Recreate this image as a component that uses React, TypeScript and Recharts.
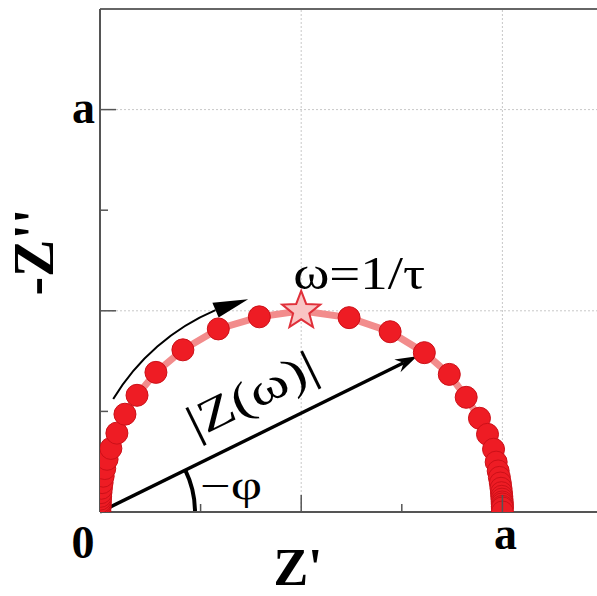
import React from "react";
import { ComposedChart, Scatter, XAxis, YAxis, ReferenceLine } from "recharts";

// Debye semicircle, impedance in units of a (dots ordered from high to low frequency)
const zRe = [
  0, 0.0001, 0.0002, 0.0004, 0.0006, 0.001, 0.0015, 0.0023, 0.0035, 0.0053, 0.0079,
  0.0118, 0.0176, 0.027, 0.042, 0.062, 0.092, 0.139, 0.206, 0.294, 0.396,
  0.619, 0.721, 0.806, 0.868, 0.91, 0.943, 0.963, 0.978, 0.9845, 0.9895, 0.9925,
  0.9948, 0.9965, 0.9977, 0.9985, 0.999, 0.9994, 0.9996, 0.9998, 0.9999, 1,
];
const zIm = [
  0, 0.01, 0.014, 0.02, 0.025, 0.032, 0.039, 0.048, 0.059, 0.073, 0.089,
  0.108, 0.131, 0.158, 0.196, 0.243, 0.29, 0.347, 0.403, 0.455, 0.485,
  0.483, 0.448, 0.396, 0.342, 0.285, 0.233, 0.193, 0.156, 0.124, 0.102, 0.086,
  0.072, 0.059, 0.048, 0.039, 0.032, 0.025, 0.02, 0.014, 0.01, 0,
];
// ω = 1/τ, top of the arc
const peakRe = [0.5];
const peakIm = [0.5];
// the |Z(ω)| arrow points at this dot
const modulusDot = 23;

const xTicks = [0, 0.25, 0.5, 0.75, 1];
const yTicks = [0.25, 0.5, 0.75, 1];
const gridValues = [0.5, 1];
const axisMax = 1.25;
// sweep arrow: centre of the arc and radius, in units of a
const sweepCenter = 0.5;
const sweepRadius = 0.545;

const dots = zRe.map((x, i) => ({ x, y: zIm[i] }));
const peak = peakRe.map((x, i) => ({ x, y: peakIm[i] }));
const path = [...dots, ...peak].sort((p, q) => p.x - q.x);

const SERIF = "'Liberation Serif', 'Times New Roman', serif";
const AXIS = "#555";

const XTick = (props: any) => {
  const { x, y, payload } = props;
  const v = payload.value;
  const len = v % 0.5 === 0 ? 17 : 8;
  return (
    <g>
      {v > 0 && <line x1={x} y1={y} x2={x} y2={y - len} stroke={AXIS} strokeWidth={1.5} />}
      {v === 0 && (
        <text x={x - 17} y={y + 46} textAnchor="middle" fontFamily={SERIF} fontWeight="bold" fontSize={46} fill="#000">
          0
        </text>
      )}
      {v === 1 && (
        <text x={x + 3} y={y + 37} textAnchor="middle" fontFamily={SERIF} fontWeight="bold" fontSize={46} fill="#000">
          a
        </text>
      )}
    </g>
  );
};

const YTick = (props: any) => {
  const { x, y, payload } = props;
  const v = payload.value;
  const len = v % 0.5 === 0 ? 16 : 8;
  return (
    <g>
      <line x1={x} y1={y} x2={x + len} y2={y} stroke={AXIS} strokeWidth={1.5} />
      {v === 1 && (
        <text x={x - 5} y={y + 13} textAnchor="end" fontFamily={SERIF} fontWeight="bold" fontSize={46} fill="#000">
          a
        </text>
      )}
    </g>
  );
};

const Dot = (p: any) => <circle cx={p.cx} cy={p.cy} r={11} fill="#ee1c24" stroke="#cc1018" strokeWidth={1} />;

const PeakStar = (p: any) => {
  const { cx, cy } = p;
  const pts: string[] = [];
  for (let i = 0; i < 10; i++) {
    const r = i % 2 === 0 ? 20 : 8.5;
    const a = -Math.PI / 2 + (i * Math.PI) / 5;
    pts.push(`${cx + r * Math.cos(a)},${cy + r * Math.sin(a)}`);
  }
  return (
    <g>
      <polygon points={pts.join(" ")} fill="#f9c4c4" stroke="#e0303a" strokeWidth={2} />
      <text x={cx - 8} y={cy - 22} fontFamily={SERIF} fontSize={46} textLength={132} lengthAdjust="spacingAndGlyphs" fill="#000">
        ω=1/τ
      </text>
    </g>
  );
};

// |Z(ω)| arrow from the origin, with the phase angle marked at its foot
const ModulusArrow = (p: any) => {
  const { x1, y1, x2, y2 } = p;
  const dx = x2 - x1;
  const dy = y2 - y1;
  const len = Math.hypot(dx, dy);
  const ux = dx / len;
  const uy = dy / len;
  const nx = uy; // normal pointing up-left
  const ny = -ux;
  const tipX = x2 - ux * 8;
  const tipY = y2 - uy * 8;
  const backX = tipX - ux * 22;
  const backY = tipY - uy * 22;
  const notchX = tipX - ux * 15;
  const notchY = tipY - uy * 15;
  const ang = Math.atan2(-dy, dx);
  const deg = (ang * 180) / Math.PI;
  const tx = x1 + dx * 0.52 + nx * 34;
  const ty = y1 + dy * 0.52 + ny * 34;
  const ra = 95;
  return (
    <g>
      <line x1={x1} y1={y1} x2={notchX} y2={notchY} stroke="#000" strokeWidth={3.5} />
      <path
        d={`M${tipX},${tipY} L${backX + nx * 7},${backY + ny * 7} L${notchX},${notchY} L${backX - nx * 7},${backY - ny * 7} Z`}
        fill="#000"
      />
      <text
        x={tx}
        y={ty}
        transform={`rotate(${-deg}, ${tx}, ${ty})`}
        textAnchor="middle"
        dominantBaseline="middle"
        fontFamily={SERIF}
        fontSize={46}
        textLength={140}
        lengthAdjust="spacingAndGlyphs"
        fill="#000"
      >
        |Z(ω)|
      </text>
      <path
        d={`M${x1 + ra},${y1} A${ra},${ra} 0 0 0 ${x1 + ra * Math.cos(ang)},${y1 - ra * Math.sin(ang)}`}
        fill="none"
        stroke="#000"
        strokeWidth={4}
      />
      <text x={x1 + 100} y={y1 - 13} fontFamily={SERIF} fontSize={40} textLength={62} lengthAdjust="spacingAndGlyphs" fill="#000">
        −φ
      </text>
    </g>
  );
};

// arrow showing the direction of decreasing frequency along the arc
const SweepArrow = (p: any) => {
  const { x1, y1, y2 } = p;
  const r = y1 - y2;
  const rad = (d: number) => (d * Math.PI) / 180;
  const at = (d: number, rr = r) => [x1 + rr * Math.cos(rad(d)), y1 - rr * Math.sin(rad(d))];
  const [sx, sy] = at(149);
  const [ex, ey] = at(113);
  const [hx, hy] = at(104);
  const [b1x, b1y] = at(113, r + 8);
  const [b2x, b2y] = at(113, r - 8);
  return (
    <g>
      <path d={`M${sx},${sy} A${r},${r} 0 0 1 ${ex},${ey}`} fill="none" stroke="#000" strokeWidth={2} />
      <path d={`M${hx},${hy} L${b1x},${b1y} L${b2x},${b2y} Z`} fill="#000" />
    </g>
  );
};

export default function App() {
  return (
    <div style={{ position: "fixed", left: 0, top: 0, width: 597, height: 596, overflow: "hidden", background: "#fff" }}>
      <ComposedChart width={640} height={596} margin={{ top: 9, right: 37, bottom: 0, left: 0 }}>
        <XAxis
          dataKey="x"
          type="number"
          domain={[0, axisMax]}
          allowDataOverflow
          ticks={xTicks}
          interval={0}
          tick={<XTick />}
          tickLine={false}
          tickSize={0}
          tickMargin={0}
          height={84}
          axisLine={{ stroke: AXIS, strokeWidth: 2 }}
          label={{
            content: (lp: any) => (
              <text x={lp.viewBox.x + 198} y={lp.viewBox.y + 73} textAnchor="middle" fontFamily={SERIF} fontWeight="bold" fontSize={52} fill="#000">
                Z'
              </text>
            ),
          }}
        />
        <YAxis
          dataKey="y"
          type="number"
          domain={[0, axisMax]}
          allowDataOverflow
          ticks={yTicks}
          interval={0}
          tick={<YTick />}
          tickLine={false}
          tickSize={0}
          tickMargin={0}
          width={100}
          axisLine={{ stroke: AXIS, strokeWidth: 2 }}
          label={{
            content: () => (
              <text
                x={53}
                y={252}
                transform="rotate(-90, 53, 252)"
                textAnchor="middle"
                fontFamily={SERIF}
                fontWeight="bold"
                fontSize={56}
                fill="#000"
              >
                -Z''
              </text>
            ),
          }}
        />
        {gridValues.map((v) => (
          <ReferenceLine key={`gx${v}`} x={v} stroke="#c8c8c8" strokeDasharray="2 2" />
        ))}
        {gridValues.map((v) => (
          <ReferenceLine key={`gy${v}`} y={v} stroke="#c8c8c8" strokeDasharray="2 2" />
        ))}
        <ReferenceLine y={axisMax} stroke="#666" strokeWidth={2} ifOverflow="visible" />
        <Scatter data={path} line={{ stroke: "#f28c8c", strokeWidth: 7 }} shape={() => <g />} isAnimationActive={false} />
        <Scatter data={dots} shape={Dot} isAnimationActive={false} />
        <Scatter data={peak} shape={PeakStar} isAnimationActive={false} />
        <ReferenceLine
          segment={[
            { x: sweepCenter, y: 0 },
            { x: sweepCenter, y: sweepRadius },
          ]}
          shape={SweepArrow}
        />
        <ReferenceLine
          segment={[
            { x: 0, y: 0 },
            { x: zRe[modulusDot], y: zIm[modulusDot] },
          ]}
          shape={ModulusArrow}
          ifOverflow="visible"
        />
      </ComposedChart>
    </div>
  );
}
